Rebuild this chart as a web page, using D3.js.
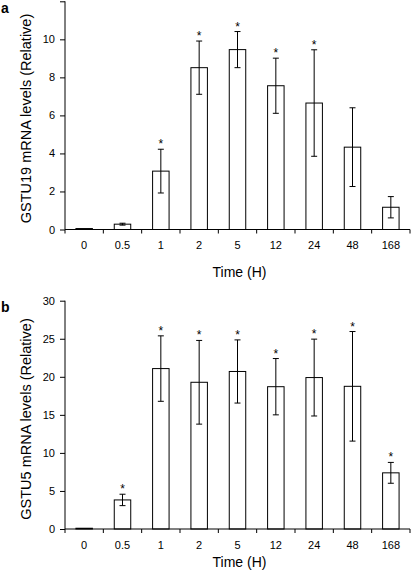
<!DOCTYPE html>
<html><head><meta charset="utf-8">
<script src="https://cdn.jsdelivr.net/npm/d3@7"></script>
<style>
html,body{margin:0;padding:0;background:#fff;}
svg text{font-family:"Liberation Sans",Arial,sans-serif;fill:#000;}
</style></head>
<body><svg id="c" width="413" height="573"></svg>
<script>
const categories = ["0","0.5","1","2","5","12","24","48","168"];
const gstu19Values = [0.05, 0.28, 3.07, 8.51, 9.46, 7.56, 6.65, 4.33, 1.17];
const gstu19Errors = [0, 0.05, 1.15, 1.4, 0.95, 1.45, 2.8, 2.07, 0.56];
const gstu19Sig    = [0, 0, 1, 1, 1, 1, 1, 0, 0];
const gstu19Ticks  = [0, 2, 4, 6, 8, 10, 12];
const gstu19TickLabels = ["0","2","4","6","8","10",""];
const gstu5Values = [0.1, 3.82, 21.08, 19.28, 20.7, 18.7, 19.9, 18.75, 7.38];
const gstu5Errors = [0, 0.75, 4.3, 5.5, 4.15, 3.7, 5.05, 7.2, 1.37];
const gstu5Sig    = [0, 1, 1, 1, 1, 1, 1, 1, 1];
const gstu5Ticks  = [0, 5, 10, 15, 20, 25, 30];
const gstu5TickLabels = ["0","5","10","15","20","25","30"];

const svg = d3.select("#c");
const x0 = 65, x1 = 410;

function panel(opt){
  const g = svg.append("g");
  const x = d3.scaleBand().domain(categories).range([x0, x1]).paddingInner(0).paddingOuter(0);
  const y = d3.scaleLinear().domain([0, opt.max]).range([opt.bottom, opt.top]);
  const bw = x.bandwidth() * 0.43;
  const data = categories.map((c, i) => ({c, v: opt.values[i], e: opt.errors[i], s: opt.sig[i]}));

  g.selectAll("rect.bar").data(data).enter().append("rect")
    .attr("x", d => x(d.c) + x.bandwidth()/2 - bw/2)
    .attr("y", d => y(d.v))
    .attr("width", bw)
    .attr("height", d => y(0) - y(d.v))
    .attr("fill", "#fff").attr("stroke", "#000").attr("stroke-width", 1);

  const eb = data.filter(d => d.e > 0);
  const cap = 3;
  g.selectAll("line.ev").data(eb).enter().append("line")
    .attr("x1", d => x(d.c) + x.bandwidth()/2).attr("x2", d => x(d.c) + x.bandwidth()/2)
    .attr("y1", d => y(d.v + d.e)).attr("y2", d => y(d.v - d.e))
    .attr("stroke", "#000").attr("stroke-width", 1);
  ["+","-"].forEach(sgn => {
    g.selectAll("line.cap" + (sgn === "+" ? "t" : "b")).data(eb).enter().append("line")
      .attr("x1", d => x(d.c) + x.bandwidth()/2 - cap).attr("x2", d => x(d.c) + x.bandwidth()/2 + cap)
      .attr("y1", d => y(sgn === "+" ? d.v + d.e : d.v - d.e))
      .attr("y2", d => y(sgn === "+" ? d.v + d.e : d.v - d.e))
      .attr("stroke", "#000").attr("stroke-width", 1);
  });

  g.selectAll("text.star").data(data.filter(d => d.s)).enter().append("text")
    .attr("x", d => x(d.c) + x.bandwidth()/2)
    .attr("y", d => y(d.v + d.e) - 1)
    .attr("text-anchor", "middle").attr("font-size", 12).attr("fill", "#000").text("*");

  const ya = d3.axisLeft(y).tickValues(opt.ticks).tickSize(5).tickPadding(5)
    .tickFormat((d, i) => opt.tickLabels[i]);
  const yg = g.append("g").attr("transform", `translate(${x0},0)`).call(ya);
  yg.select(".domain").attr("d", `M0,${y(opt.max)}V${y(0)}`);
  yg.selectAll("text").attr("font-size", 11).attr("fill", "#000").attr("font-family", "Liberation Sans, Arial, sans-serif");

  const xa = d3.axisBottom(x).tickSize(0).tickPadding(12);
  const xg = g.append("g").attr("transform", `translate(0,${y(0)})`).call(xa);
  xg.select(".domain").attr("d", `M${x0},0H${x1}`);
  xg.selectAll("text").attr("font-size", 11).attr("fill", "#000").attr("font-family", "Liberation Sans, Arial, sans-serif");
  const bounds = categories.map(c => x(c)).concat([x1]);
  xg.selectAll("line.bt").data(bounds).enter().append("line")
    .attr("x1", d => d).attr("x2", d => d).attr("y1", 0).attr("y2", 4)
    .attr("stroke", "#000");

  g.append("text").attr("x", (x0 + x1)/2 + 2).attr("y", opt.titleY)
    .attr("text-anchor", "middle").attr("font-size", 14).text("Time (H)");
  g.append("text").attr("transform", `translate(31,${opt.ylabelY}) rotate(-90)`)
    .attr("text-anchor", "middle").attr("font-size", 14.5).text(opt.ylabel);
  g.append("text").attr("x", 1).attr("y", opt.letterY)
    .attr("font-size", 14).attr("font-weight", "bold").text(opt.letter);
}

panel({values: gstu19Values, errors: gstu19Errors, sig: gstu19Sig, ticks: gstu19Ticks,
  tickLabels: gstu19TickLabels, max: 12, bottom: 229.5, top: 1.3, titleY: 277,
  ylabel: "GSTU19 mRNA levels (Relative)", ylabelY: 118.5, letter: "a", letterY: 13});
panel({values: gstu5Values, errors: gstu5Errors, sig: gstu5Sig, ticks: gstu5Ticks,
  tickLabels: gstu5TickLabels, max: 30, bottom: 529, top: 300.7, titleY: 567,
  ylabel: "GSTU5 mRNA levels (Relative)", ylabelY: 419, letter: "b", letterY: 312});
</script></body></html>
